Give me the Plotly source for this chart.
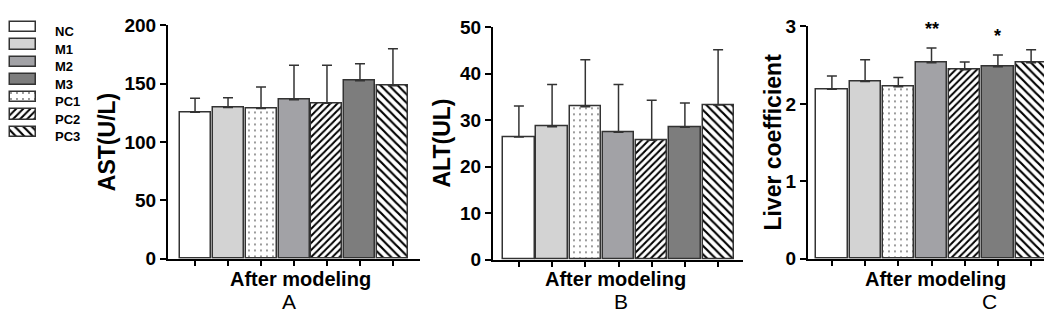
import plotly.graph_objects as go

# ---------------- data ----------------
groups = ["NC", "M1", "PC1", "M2", "PC2", "M3", "PC3"]          # bar order in the panels
legend_groups = ["NC", "M1", "M2", "M3", "PC1", "PC2", "PC3"]   # legend order

ast_mean = [125.7, 129.7, 128.9, 136.4, 133.4, 152.7, 148.4]
ast_sd = [12.0, 8.3, 18.4, 29.6, 32.6, 14.4, 31.6]

alt_mean = [26.4, 28.6, 32.9, 27.4, 25.7, 28.5, 33.3]
alt_sd = [6.7, 9.1, 10.1, 10.3, 8.6, 5.2, 11.9]

liver_mean = [2.19, 2.29, 2.22, 2.53, 2.44, 2.48, 2.53]
liver_sd = [0.17, 0.28, 0.12, 0.19, 0.10, 0.15, 0.17]

sig_groups = ["M2", "M3"]
sig_marks = ["**", "*"]

panel_titles = ["AST(U/L)", "ALT(UL)", "Liver coefficient"]
panel_letters = ["A", "B", "C"]
x_title = "After modeling"

# ---------------- styles ----------------
FONT = "Liberation Sans, Arial, sans-serif"
W, H = 1052, 315
style = {
    "NC":  dict(color="#ffffff", shape="", size=6, sol=0.2),
    "M1":  dict(color="#d3d3d3", shape="", size=6, sol=0.2),
    "M2":  dict(color="#a2a2a6", shape="", size=6, sol=0.2),
    "M3":  dict(color="#7d7d7d", shape="", size=6, sol=0.2),
    "PC1": dict(color="#ffffff", shape=".", size=6, sol=0.045),
    "PC2": dict(color="#ffffff", shape="/", size=5, sol=0.4),
    "PC3": dict(color="#ffffff", shape="\\", size=6, sol=0.36),
}
EDGE = "#333333"


def marker_for(name):
    s = style[name]
    m = dict(color=s["color"], line=dict(color=EDGE, width=1.5))
    if s["shape"]:
        m["pattern"] = dict(shape=s["shape"], size=s["size"], solidity=s["sol"],
                            fgcolor="#000000", bgcolor=s["color"], fgopacity=1)
    return m


def px_x(p):
    return p / W


def px_y(p):
    return (H - p) / H


fig = go.Figure()

panels = [
    (ast_mean, ast_sd, "x", "y"),
    (alt_mean, alt_sd, "x2", "y2"),
    (liver_mean, liver_sd, "x3", "y3"),
]
for mean, sd, xa, ya in panels:
    for g, v, e in zip(groups, mean, sd):
        fig.add_trace(go.Bar(
            x=[g], y=[v], width=0.94, marker=marker_for(g),
            error_y=dict(type="data", symmetric=False, array=[e], arrayminus=[0],
                         color=EDGE, thickness=1.5, width=5),
            xaxis=xa, yaxis=ya, showlegend=False,
        ))

# legend drawn as a tiny horizontal bar chart
for g in legend_groups:
    fig.add_trace(go.Bar(
        x=[1], y=[g], orientation="h", width=0.6, marker=marker_for(g),
        xaxis="x4", yaxis="y4", showlegend=False, hoverinfo="skip",
    ))

# ---------------- axes ----------------
x_domains = [(160, 412), (485, 735), (800, 1050)]
y_domains = [(258, 8), (259, 10), (258, 9)]
x_ranges = [[-0.82, 6.82], [-0.78, 6.75], [-0.72, 6.81]]
y_ranges = [[0, 200], [0, 50], [0, 3]]
y_dticks = [50, 10, 1]

axis_common = dict(showline=True, linewidth=2, linecolor="black", ticks="outside",
                   tickwidth=2, tickcolor="black", showgrid=False, zeroline=False)

for i in range(3):
    sfx = "" if i == 0 else str(i + 1)
    fig.layout["xaxis" + sfx] = dict(
        axis_common, domain=[px_x(x_domains[i][0]), px_x(x_domains[i][1])],
        range=x_ranges[i], ticklen=5, showticklabels=False,
        anchor="y" + sfx, type="category",
        categoryorder="array", categoryarray=groups,
    )
    fig.layout["yaxis" + sfx] = dict(
        axis_common, domain=[px_y(y_domains[i][0]), px_y(y_domains[i][1])],
        range=y_ranges[i], dtick=y_dticks[i], tick0=0, ticklen=6,
        ticklabeloverflow="allow",
        tickfont=dict(family=FONT, size=19, color="black", weight="bold"),
        anchor="x" + sfx,
    )

fig.layout["xaxis4"] = dict(domain=[px_x(0), px_x(30)], range=[-0.077, 1.077],
                            visible=False, anchor="y4")
fig.layout["yaxis4"] = dict(domain=[px_y(131.25), px_y(0)], range=[6.5, -0.5],
                            visible=False, anchor="x4", type="category",
                            categoryorder="array", categoryarray=legend_groups)

# ---------------- annotations ----------------
ann = []
ytitle_x = [99, 434, 765]
xtitle_x = [292, 607, 927]
letter_x = [281, 613, 981]
for i in range(3):
    cy = (y_domains[i][0] + y_domains[i][1]) / 2
    ann.append(dict(text=panel_titles[i], xref="paper", yref="paper",
                    x=px_x(ytitle_x[i]), y=px_y(cy), textangle=-90,
                    showarrow=False, xanchor="center", yanchor="middle",
                    font=dict(family=FONT, size=23, color="black", weight="bold")))
    ann.append(dict(text=x_title, xref="paper", yref="paper",
                    x=px_x(xtitle_x[i]), y=px_y(280), showarrow=False,
                    xanchor="center", yanchor="middle",
                    font=dict(family=FONT, size=20, color="black", weight="bold")))
    ann.append(dict(text=panel_letters[i], xref="paper", yref="paper",
                    x=px_x(letter_x[i]), y=px_y(304), showarrow=False,
                    xanchor="center", yanchor="middle",
                    font=dict(family=FONT, size=21, color="black")))

for g in legend_groups:
    ann.append(dict(text=g, xref="paper", yref="y4", x=px_x(45), y=g, yshift=-5,
                    showarrow=False, xanchor="left", yanchor="middle",
                    font=dict(family=FONT, size=13, color="black", weight="bold")))

for g, m in zip(sig_groups, sig_marks):
    idx = groups.index(g)
    ann.append(dict(text=m, xref="x3", yref="y3", x=g,
                    y=liver_mean[idx] + liver_sd[idx], yshift=19,
                    showarrow=False, xanchor="center", yanchor="middle",
                    font=dict(family=FONT, size=18, color="black", weight="bold")))

fig.update_layout(
    width=W, height=H, margin=dict(l=0, r=0, t=0, b=0),
    paper_bgcolor="white", plot_bgcolor="white",
    annotations=ann, barmode="overlay", bargap=0,
    font=dict(family=FONT, color="black"),
)

fig.write_html("out.html")
